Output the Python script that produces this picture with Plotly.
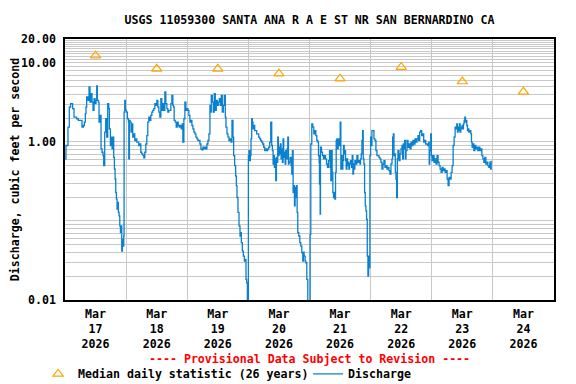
import math
import pandas as pd
import plotly.graph_objects as go

# ---------------- data ----------------
START = "2026-03-17 00:00"
END = "2026-03-25 00:00"

# Discharge (cfs): hours after 2026-03-17 00:00 and value
hours = [
    0.0, 0.38, 0.90, 1.17, 1.69, 2.22, 3.00, 3.53, 4.05, 4.58, 5.23, 6.15, 6.68, 7.20, 7.59, 7.99,
    8.25, 8.51, 9.04, 9.43, 9.82, 10.22, 10.61, 11.00, 11.40, 11.79, 12.18, 12.45, 12.71, 13.10,
    13.36, 13.76, 14.15, 14.55, 14.94, 15.20, 15.59, 15.99, 16.38, 16.77, 17.17, 17.43, 17.82,
    18.09, 18.48, 18.87, 19.13, 19.40, 19.66, 19.92, 20.18, 20.45, 20.71, 20.97, 21.23, 21.50,
    21.76, 22.02, 22.28, 22.54, 22.81, 23.07, 23.20, 23.46, 23.72, 24.12, 24.51, 24.91, 25.04,
    25.30, 25.56, 25.95, 26.22, 26.61, 27.00, 27.40, 27.79, 28.18, 28.58, 28.97, 29.36, 29.76,
    30.15, 30.54, 30.94, 31.33, 31.73, 32.12, 32.51, 32.90, 33.30, 33.69, 34.09, 34.48, 34.87,
    35.27, 35.66, 36.05, 36.45, 36.84, 37.23, 37.63, 38.02, 38.41, 38.81, 39.20, 39.59, 39.99,
    40.38, 40.77, 41.17, 41.56, 41.96, 42.35, 42.61, 42.87, 43.27, 43.66, 44.05, 44.45, 44.84,
    45.23, 45.63, 46.02, 46.28, 46.68, 47.07, 47.46, 47.86,
    48.25, 48.64, 49.04, 49.43, 49.83, 50.22, 50.61, 51.01, 51.40, 51.79, 52.19, 52.58, 52.97,
    53.37, 53.76, 54.15, 54.55, 54.94, 55.33, 55.73, 56.12, 56.51, 56.91, 57.17, 57.43, 57.83,
    58.22, 58.61, 59.01, 59.40, 59.79, 60.19, 60.58, 60.97, 61.37, 61.76, 62.15, 62.55, 62.94,
    63.20, 63.60, 63.99, 64.38, 64.78, 65.17, 65.56, 65.96, 66.22, 66.61, 67.01, 67.27, 67.53,
    67.92, 68.32, 68.71, 68.97, 69.24, 69.63, 70.02, 70.42, 70.81, 71.07, 71.33, 71.60, 71.86,
    72.00, 72.25, 72.51, 72.78, 73.04, 73.30, 73.56, 73.83, 74.09, 74.48, 74.87, 75.27, 75.66,
    76.06, 76.45, 76.84, 77.24, 77.63, 78.02, 78.42, 78.81, 79.20, 79.60, 79.99, 80.38, 80.78,
    81.17, 81.43, 81.70, 81.96, 82.22, 82.48, 82.74, 83.01, 83.27, 83.53, 83.79, 84.06, 84.32,
    84.58, 84.84, 85.10, 85.37, 85.63, 85.89, 86.15, 86.42, 86.68, 86.94, 87.20, 87.47, 87.73,
    87.99, 88.38, 88.78, 89.04, 89.30, 89.56, 89.83, 90.09, 90.35, 90.61, 90.88, 91.14, 91.40,
    91.79, 92.19, 92.58, 92.97, 93.37, 93.63, 93.89, 94.29, 94.55, 94.94, 95.33,
    95.72, 96.25, 96.51, 96.90, 97.30, 97.69, 98.08, 98.48, 98.87, 99.26, 99.53, 99.79, 99.92,
    100.18, 100.31, 100.71, 101.10, 101.49, 101.89, 102.28, 102.67, 103.07, 103.46, 103.86,
    104.12, 104.38, 104.64, 104.90, 105.17, 105.43, 105.69, 105.95, 106.22, 106.48, 106.74,
    107.00, 107.27, 107.53, 107.79, 108.05, 108.31, 108.58, 108.84, 109.10, 109.36, 109.63,
    109.89, 110.15, 110.41, 110.67, 110.94, 111.20, 111.46, 111.72, 112.12, 112.51, 112.77,
    113.04, 113.30, 113.56, 113.82, 114.22, 114.61, 115.00, 115.40, 115.79, 116.05, 116.31,
    116.58, 116.84, 117.10, 117.36, 117.63, 117.89, 118.15, 118.41, 118.68, 118.94, 119.20,
    119.46, 119.72, 119.99, 120.25, 120.51, 120.90, 121.30, 121.69, 122.08, 122.48, 122.87,
    123.27, 123.66, 124.05, 124.45, 124.84, 125.23, 125.63, 126.02, 126.41, 126.81, 127.20,
    127.59, 127.99, 128.38, 128.64, 128.91, 129.17, 129.43, 129.69, 129.95, 130.22, 130.48,
    130.74, 131.13, 131.53, 131.92, 132.31, 132.58, 132.84, 133.10, 133.36, 133.63, 133.89,
    134.28, 134.67, 135.07, 135.46, 135.86, 136.25, 136.64, 137.04, 137.43, 137.82, 138.22,
    138.61, 138.87, 139.27, 139.66, 140.05, 140.45, 140.84, 141.23, 141.63, 142.02, 142.41,
    142.81, 143.00,
    143.21, 143.60, 143.86, 144.12, 144.52, 144.91, 145.30, 145.70, 146.09, 146.48, 146.88,
    147.27, 147.67, 148.06, 148.45, 148.85, 149.24, 149.63, 150.03, 150.42, 150.81, 151.21,
    151.60, 151.99, 152.39, 152.78, 153.17, 153.57, 153.83, 154.09, 154.35, 154.62, 154.88,
    155.14, 155.40, 155.67, 155.93, 156.19, 156.45, 156.71, 156.98, 157.24, 157.50, 157.76,
    158.03, 158.29, 158.55, 158.94, 159.34, 159.60, 159.86, 160.12, 160.52, 160.91, 161.30,
    161.70, 162.09, 162.49, 162.88, 163.27, 163.67, 164.06, 164.45, 164.85, 165.24, 165.63,
    166.03, 166.42, 166.81, 167.08, 167.34,
]
discharge = [
    0.61, 0.90, 0.90, 1.54, 2.76, 3.04, 2.63, 2.06, 2.06, 1.96, 1.87, 1.87, 1.54, 1.61, 1.78, 2.27,
    2.76, 3.70, 3.35, 4.95, 3.19, 4.07, 3.19, 2.50, 3.52, 3.04, 3.35, 5.10, 3.35, 3.19,
    1.78, 2.16, 0.815, 0.739, 0.67, 0.50, 1.33, 1.96, 1.15, 3.04, 2.63, 1.46, 0.90,
    1.15, 0.815, 1.15, 0.638, 0.454, 0.339, 0.229, 0.189, 0.141, 0.171, 0.128, 0.116, 0.0865,
    0.0711, 0.0865, 0.0416, 0.0585, 0.0481, 0.0645, 2.38, 3.35, 2.50, 2.38, 1.96, 1.78, 0.608,
    1.87, 1.78, 1.33, 1.69, 1.15, 1.26, 1.04, 1.09, 0.99, 0.99, 0.90, 0.94, 0.739,
    0.704, 0.68, 0.63, 0.739, 0.94, 1.20, 1.78, 2.06, 1.87, 2.16, 2.38, 2.50, 2.63,
    3.04, 2.90, 3.35, 2.76, 2.38, 2.06, 3.52, 2.50, 3.04, 2.50, 4.27, 3.04, 2.63,
    2.38, 2.50, 2.50, 3.04, 3.88, 2.90, 2.76, 1.87, 1.78, 1.54, 1.78, 1.61, 1.54,
    1.61, 1.46, 1.69, 0.99, 1.96, 3.19, 2.50, 2.63,
    2.50, 2.16, 1.78, 1.87, 1.61, 1.46, 1.33, 1.26, 1.15, 1.09, 1.04, 1.04, 0.94,
    0.815, 0.79, 0.855, 0.815, 0.855, 0.815, 0.94, 1.04, 1.26, 2.90, 2.38, 3.88, 3.19,
    2.38, 4.07, 2.50, 3.35, 2.90, 3.19, 3.52, 2.90, 3.88, 2.38, 2.90, 3.88, 2.06,
    1.54, 1.26, 1.15, 1.04, 1.09, 0.99, 1.87, 1.15, 0.67, 0.50, 0.37, 0.279, 0.198,
    0.128, 0.0865, 0.0645, 0.0711, 0.0531, 0.0416, 0.0359, 0.031, 0.0326, 0.0182, 0.0165, 0.008, 0.008,
    0.67, 0.776, 0.579, 0.67, 1.09, 1.96, 1.78, 1.46, 1.61, 1.39, 1.39, 1.26, 1.26,
    1.15, 1.09, 1.04, 0.99, 0.94, 0.855, 0.776, 0.815, 0.776, 0.815, 0.855, 0.99, 1.78,
    0.90, 0.776, 0.525, 0.67, 0.476, 0.608, 0.323, 0.638, 0.552, 1.15, 0.67, 0.855, 0.704,
    0.94, 0.608, 0.815, 0.552, 1.09, 0.638, 0.739, 0.525, 0.776, 0.608, 0.815, 1.15, 0.525,
    0.552, 0.638, 0.50, 0.392, 0.776, 0.229, 0.279, 0.155, 0.265, 0.198, 0.279, 0.128, 0.0711,
    0.0645, 0.0531, 0.0481, 0.0396, 0.031, 0.0404, 0.0359, 0.031, 0.0296, 0.0182, 0.008,
    0.008, 0.0677, 0.94, 1.69, 1.54, 1.26, 1.39, 1.20, 1.04, 0.99, 0.67, 0.552, 0.293,
    0.122, 0.855, 0.739, 0.67, 0.608, 0.67, 0.608, 0.525, 0.476, 0.579, 0.776,
    0.476, 0.323, 0.776, 0.412, 0.229, 0.198, 0.229, 0.189, 0.412, 1.04, 1.09,
    0.815, 0.99, 1.09, 0.90, 1.78, 0.454, 0.67, 0.454, 0.579, 0.90, 0.704,
    0.776, 0.579, 0.454, 0.608, 0.50, 0.552, 0.454, 0.525, 0.579, 0.476, 0.67,
    0.392, 0.525, 0.454, 0.579, 0.525, 0.67, 0.552, 0.579, 0.525, 0.608, 0.704,
    1.04, 1.39, 0.608, 0.525, 0.229, 0.155, 0.134, 0.105, 0.0359, 0.020, 0.0359,
    0.0255, 0.670, 1.15, 0.90, 1.39, 1.39, 1.09, 1.04, 0.776, 0.67, 0.67,
    0.638, 0.608, 0.552, 0.454, 0.525, 0.579, 0.476, 0.50, 0.454, 0.476, 0.432,
    0.392, 0.525, 0.608, 1.15, 1.26, 0.67, 0.704, 0.412, 0.339, 0.198, 0.608,
    0.776, 0.579, 0.704, 0.815, 0.90, 0.608, 0.94, 0.815, 1.04, 0.608, 0.776,
    1.04, 0.855, 0.94, 0.815, 0.99, 0.90, 1.04, 0.94, 1.09, 0.99, 1.09,
    1.20, 1.04, 1.33, 1.39, 1.20, 1.26, 0.99, 1.04, 0.94, 0.94, 0.90,
    0.99, 0.525,
    0.776, 1.26, 0.67, 0.579, 0.67, 0.552, 0.608, 0.525, 0.67, 0.552, 0.50,
    0.454, 0.412, 0.476, 0.432, 0.454, 0.412, 0.432, 0.339, 0.279, 0.356, 0.339,
    0.412, 0.50, 0.90, 1.15, 1.54, 1.46, 1.69, 1.33, 1.54, 1.39, 1.69,
    1.33, 1.46, 1.54, 1.61, 1.46, 1.69, 1.87, 2.06, 1.78, 1.87, 1.61,
    1.39, 1.46, 1.33, 1.39, 1.26, 0.99, 0.855, 0.94, 0.776, 0.90, 0.815,
    0.855, 0.776, 0.855, 0.776, 0.815, 0.67, 0.608, 0.552, 0.638, 0.525, 0.552,
    0.50, 0.476, 0.552, 0.454, 0.579,
]

# Median daily statistic (cfs) at noon of each day
median_days = ["2026-03-17 12:00", "2026-03-18 12:00", "2026-03-19 12:00", "2026-03-20 12:00",
               "2026-03-21 12:00", "2026-03-22 12:00", "2026-03-23 12:00", "2026-03-24 12:00"]
median_values = [12.3, 8.4, 8.4, 7.3, 6.3, 8.8, 5.8, 4.3]

# Y axis ticks / gridlines
y_grid_values = ([k / 100 for k in range(1, 10)] + [k / 10 for k in range(1, 10)]
                 + list(range(1, 10)) + list(range(10, 21)))
y_label_map = {0.01: "0.01", 1: "1.00", 10: "10.00", 20: "20.00"}

TITLE = "USGS 11059300 SANTA ANA R A E ST NR SAN BERNARDINO CA"
Y_TITLE = "Discharge, cubic feet per second"
NOTE = "---- Provisional Data Subject to Revision ----"

# ---------------- figure ----------------
times = pd.Timestamp(START) + pd.to_timedelta(hours, unit="h")
FONT = "DejaVu Sans Mono"
W, H = 568, 376   # page body has an 8px margin

fig = go.Figure()
fig.add_trace(go.Scatter(
    x=times, y=discharge, mode="lines", name="Discharge",
    line=dict(color="#0a80d0", width=1.3, shape="hv"), legendrank=2,
))
fig.add_trace(go.Scatter(
    x=pd.to_datetime(median_days), y=median_values, mode="markers",
    name="Median daily statistic (26 years)",
    marker=dict(symbol="triangle-up-open", size=9, color="#ffa500", line=dict(width=1.2, color="#ffa500")),
    legendrank=1,
))

y_text = [y_label_map.get(v, "") for v in y_grid_values]

fig.update_layout(
    width=W, height=H,
    margin=dict(l=57, r=22, t=31, b=84, pad=0, autoexpand=False),
    paper_bgcolor="white", plot_bgcolor="white",
    font=dict(family=FONT, size=11.6, color="black", weight="bold"),
    title=dict(text=TITLE, x=0.5, xref="paper", xanchor="center",
               y=1 - 12 / H, yref="container", yanchor="middle",
               font=dict(family=FONT, size=11.6, color="black", weight="bold")),
    showlegend=True,
    legend=dict(orientation="h", x=-0.055, xanchor="left", y=-0.283, yanchor="middle",
                yref="paper", font=dict(family=FONT, size=11.6, weight="bold"),
                itemwidth=30, entrywidth=225, entrywidthmode="pixels",
                tracegroupgap=0, bgcolor="rgba(0,0,0,0)"),
    xaxis=dict(
        type="date", range=[START, END], automargin=False,
        dtick=86400000, tick0="2026-03-17", tickformat="%b<br>%d<br>%Y",
        ticklabelmode="period", ticks="", ticklabelstandoff=2,
        showgrid=True, gridcolor="#c8c8c8", gridwidth=1,
        showline=True, linecolor="black", linewidth=1.5, mirror=True, zeroline=False,
        tickfont=dict(family=FONT, size=11.6, weight="bold"),
    ),
    yaxis=dict(
        type="log", range=[-2, math.log10(20)],
        tickmode="array", tickvals=y_grid_values, ticktext=y_text, ticks="",
        ticklabelstandoff=5,
        showgrid=True, gridcolor="#c8c8c8", gridwidth=1,
        showline=True, linecolor="black", linewidth=1.5, mirror=True, zeroline=False,
        tickfont=dict(family=FONT, size=11.6, weight="bold"),
        title=dict(text=Y_TITLE, standoff=3, font=dict(family=FONT, size=11.6, weight="bold")),
        automargin=False,
    ),
    annotations=[dict(text=NOTE, xref="paper", yref="paper", x=0.5, y=-0.225,
                      xanchor="center", yanchor="middle", showarrow=False,
                      font=dict(family=FONT, size=11.6, color="#ff0000", weight="bold"))],
)

fig.write_html("out.html")
